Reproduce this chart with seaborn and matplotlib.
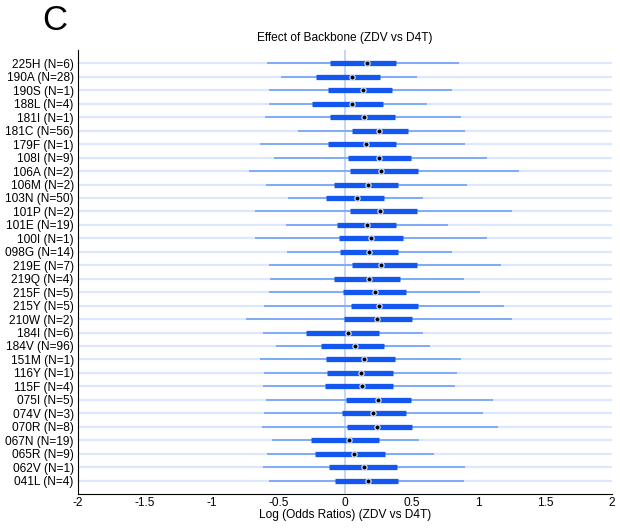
import numpy as np
import pandas as pd
import matplotlib
matplotlib.use('Agg')
import matplotlib.pyplot as plt
import seaborn as sns

# mutaciones (de arriba a abajo)
mutaciones = ['225H (N=6)', '190A (N=28)', '190S (N=1)', '188L (N=4)', '181I (N=1)',
              '181C (N=56)', '179F (N=1)', '108I (N=9)', '106A (N=2)', '106M (N=2)',
              '103N (N=50)', '101P (N=2)', '101E (N=19)', '100I (N=1)', '098G (N=14)',
              '219E (N=7)', '219Q (N=4)', '215F (N=5)', '215Y (N=5)', '210W (N=2)',
              '184I (N=6)', '184V (N=96)', '151M (N=1)', '116Y (N=1)', '115F (N=4)',
              '075I (N=5)', '074V (N=3)', '070R (N=8)', '067N (N=19)', '065R (N=9)',
              '062V (N=1)', '041L (N=4)']

bigote_inf = [-0.587, -0.480, -0.570, -0.567, -0.600, -0.355, -0.637, -0.530, -0.717, -0.592,
              -0.430, -0.675, -0.445, -0.675, -0.437, -0.572, -0.560, -0.572, -0.607, -0.745,
              -0.612, -0.517, -0.637, -0.605, -0.612, -0.595, -0.605, -0.625, -0.550, -0.582,
              -0.612, -0.567]
caja_inf = [-0.110, -0.215, -0.130, -0.245, -0.115, 0.050, -0.125, 0.022, 0.035, -0.085,
            -0.140, 0.040, -0.060, -0.047, -0.040, 0.055, -0.080, -0.017, 0.045, -0.005,
            -0.292, -0.182, -0.140, -0.137, -0.150, 0.007, -0.025, 0.017, -0.255, -0.227,
            -0.117, -0.077]
mediana = [0.165, 0.050, 0.137, 0.052, 0.145, 0.255, 0.155, 0.252, 0.270, 0.170,
           0.090, 0.265, 0.165, 0.192, 0.180, 0.270, 0.180, 0.225, 0.257, 0.237,
           0.022, 0.075, 0.140, 0.122, 0.130, 0.247, 0.207, 0.240, 0.032, 0.070,
           0.145, 0.170]
caja_sup = [0.380, 0.265, 0.355, 0.287, 0.375, 0.475, 0.380, 0.495, 0.550, 0.400,
            0.290, 0.540, 0.382, 0.435, 0.400, 0.540, 0.410, 0.460, 0.545, 0.505,
            0.252, 0.290, 0.375, 0.360, 0.360, 0.497, 0.455, 0.502, 0.257, 0.302,
            0.390, 0.397]
bigote_sup = [0.857, 0.540, 0.805, 0.615, 0.867, 0.897, 0.902, 1.062, 1.307, 0.915,
              0.585, 1.249, 0.775, 1.062, 0.805, 1.172, 0.895, 1.015, 1.192, 1.254,
              0.587, 0.635, 0.872, 0.837, 0.825, 1.112, 1.034, 1.144, 0.555, 0.665,
              0.897, 0.895]

df = pd.DataFrame({'mut': mutaciones, 'lo': bigote_inf, 'q1': caja_inf,
                   'med': mediana, 'q3': caja_sup, 'hi': bigote_sup})
n = len(df)
df['y'] = np.arange(n, 0, -1)

sns.set_style('white')
plt.rcParams['font.family'] = ['Liberation Sans', 'DejaVu Sans']
plt.rcParams['text.color'] = 'black'
plt.rcParams['axes.labelcolor'] = 'black'
plt.rcParams['xtick.labelcolor'] = 'black'
plt.rcParams['ytick.labelcolor'] = 'black'

fig = plt.figure(figsize=(6.2, 5.3), dpi=100)
ax = fig.add_axes([0.1258, 0.068, 0.8612, 0.8377])

# linea de fondo de cada fila
ax.hlines(df['y'], -2, 2, color='#dce8fd', lw=1.6, zorder=1)
# linea del cero
ax.axvline(0, color='#b9d0fa', lw=1.2, zorder=2)
# bigotes
ax.hlines(df['y'], df['lo'], df['hi'], color='#80acf6', lw=1.4, zorder=3)
# cajas
ax.hlines(df['y'], df['q1'], df['q3'], color='#1457f0', lw=3.8, zorder=4)

# mediana
sns.scatterplot(data=df, x='med', y='y', ax=ax, s=22, color='#c9dbfc',
                linewidth=0, zorder=5, legend=False)
sns.scatterplot(data=df, x='med', y='y', ax=ax, s=8, color='black',
                linewidth=0, zorder=6, legend=False)

ax.set_xlim(-2, 2)
ax.set_ylim(0, n + 1)
ax.set_yticks(df['y'])
ax.set_yticklabels(df['mut'], fontsize=8.6, color='black')
ax.set_xticks([-2, -1.5, -1, -0.5, 0, 0.5, 1, 1.5, 2])
ax.set_xticklabels(['-2', '-1.5', '-1', '-0.5', '0', '0.5', '1', '1.5', '2'], fontsize=8.6,
                   color='black')
ax.tick_params(axis='both', direction='in', length=3, width=0.6, color='#555555', pad=3)
ax.tick_params(axis='x', pad=2)

for s in ['top', 'right']:
    ax.spines[s].set_visible(False)
for s in ['left', 'bottom']:
    ax.spines[s].set_color('black')
    ax.spines[s].set_linewidth(0.8)

ax.set_xlabel('Log (Odds Ratios) (ZDV vs D4T)', fontsize=8.6, labelpad=0, color='black')
ax.set_ylabel('')
fig.text(0.5565, 0.928, 'Effect of Backbone (ZDV vs D4T)', ha='center', va='center',
         fontsize=8.6, color='black')
fig.text(0.088, 0.962, 'C', ha='center', va='center', fontsize=25, color='black')

fig.savefig('out.png', dpi=100)
